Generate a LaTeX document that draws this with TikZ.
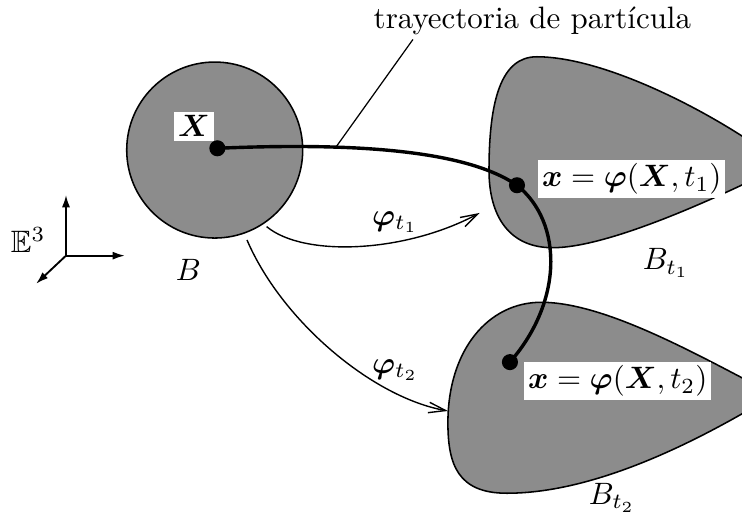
\documentclass[tikz,border=0pt]{standalone}
\usepackage{amsmath,amssymb,bm}
\usetikzlibrary{arrows.meta,calc}
\definecolor{cBody}{HTML}{8C8C8C}
\definecolor{cInk}{HTML}{000000}
\tikzset{
  body/.style={draw=cInk, line width=0.5pt, fill=cBody},
  dot/.style={circle, fill=cInk, inner sep=0pt, minimum size=5.2pt},
  tag/.style={fill=white, inner sep=1.2pt},
  trajline/.style={line width=1.1pt, draw=cInk},
  leader/.style={line width=0.4pt, draw=cInk},
  maparrow/.style={-{Straight Barb[length=5.5pt,width=3.4pt]}, line width=0.45pt},
  axis/.style={-{Latex[length=4pt,width=2.6pt]}, line width=0.6pt},
}

\begin{document}
\begin{tikzpicture}
\useasboundingbox (0,0) rectangle (8.432,5.875);
% bodies
\node[body, circle, minimum size=2cm, inner sep=0pt] (B0) at (2.44,4.17) {};
\draw[body] (5.557,3.94) .. controls (5.557,4.75) and (5.7,5.23) .. (6.10,5.23)
  .. controls (6.9,5.23) and (8.2,4.55) .. (8.9,4.0)
  .. controls (8.1,3.6) and (6.9,3.06) .. (6.28,3.06)
  .. controls (5.8,3.06) and (5.557,3.4) .. (5.557,3.94) -- cycle;
\draw[body] (5.09,1.07) .. controls (5.09,1.9) and (5.55,2.44) .. (6.15,2.44)
  .. controls (6.9,2.44) and (8.0,1.8) .. (8.8,1.39)
  .. controls (8.0,0.9) and (6.8,0.27) .. (5.76,0.27)
  .. controls (5.2,0.27) and (5.09,0.6) .. (5.09,1.07) -- cycle;
\node at (2.14,2.81) (Bl) {$B$};
\node at (7.57,2.89) (Bl1) {$B_{t_1}$};
\node at (6.955,0.22) (Bl2) {$B_{t_2}$};
% particle
\node[dot] (X) at (2.47,4.19) {};
\node[dot] (x1) at (5.875,3.77) {};
\node[dot] (x2) at (5.795,1.76) {};
\draw[trajline] (X.center) .. controls (4.545,4.28) and (5.45,4.06) .. coordinate[pos=0.25] (tp) (x1.center)
  .. controls (6.4,3.35) and (6.4,2.45) .. (x2.center);
\node[tag] (Xl) at (2.205,4.44) {$\bm{X}$};
\node[tag] (x1l) at (7.18,3.84) {$\bm{x}=\bm{\varphi}(\bm{X},t_1)$};
\node[tag] (x2l) at (7.02,1.545) {$\bm{x}=\bm{\varphi}(\bm{X},t_2)$};
\node (trl) at (6.05,5.64) {trayectoria de partícula};
\draw[leader] (tp) -- ($(trl.south west)+(0.57,0.07)$);
% maps
\coordinate (m1s) at (3.03,3.30);
\coordinate (m1e) at (5.45,3.455);
\coordinate (m2s) at (2.807,3.148);
\coordinate (m2e) at (5.09,1.205);
\draw[maparrow] (m1s) .. controls (3.45,2.95) and (4.6,3.0) .. (m1e);
\draw[maparrow] (m2s) .. controls (3.2,2.23) and (4.23,1.36) .. (m2e);
\node (phi1) at (4.49,3.35) {$\bm{\varphi}_{t_1}$};
\node (phi2) at (4.49,1.67) {$\bm{\varphi}_{t_2}$};
% frame
\coordinate (o) at (0.75,2.97);
\coordinate (e1) at (1.42,2.97);
\coordinate (e2) at (0.75,3.66);
\coordinate (e3) at (0.41,2.65);
\draw[axis] (o) -- (e1);
\draw[axis] (o) -- (e2);
\draw[axis] (o) -- (e3);
\node (E3) at (0.32,3.15) {$\mathbb{E}^3$};
\end{tikzpicture}
\end{document}
